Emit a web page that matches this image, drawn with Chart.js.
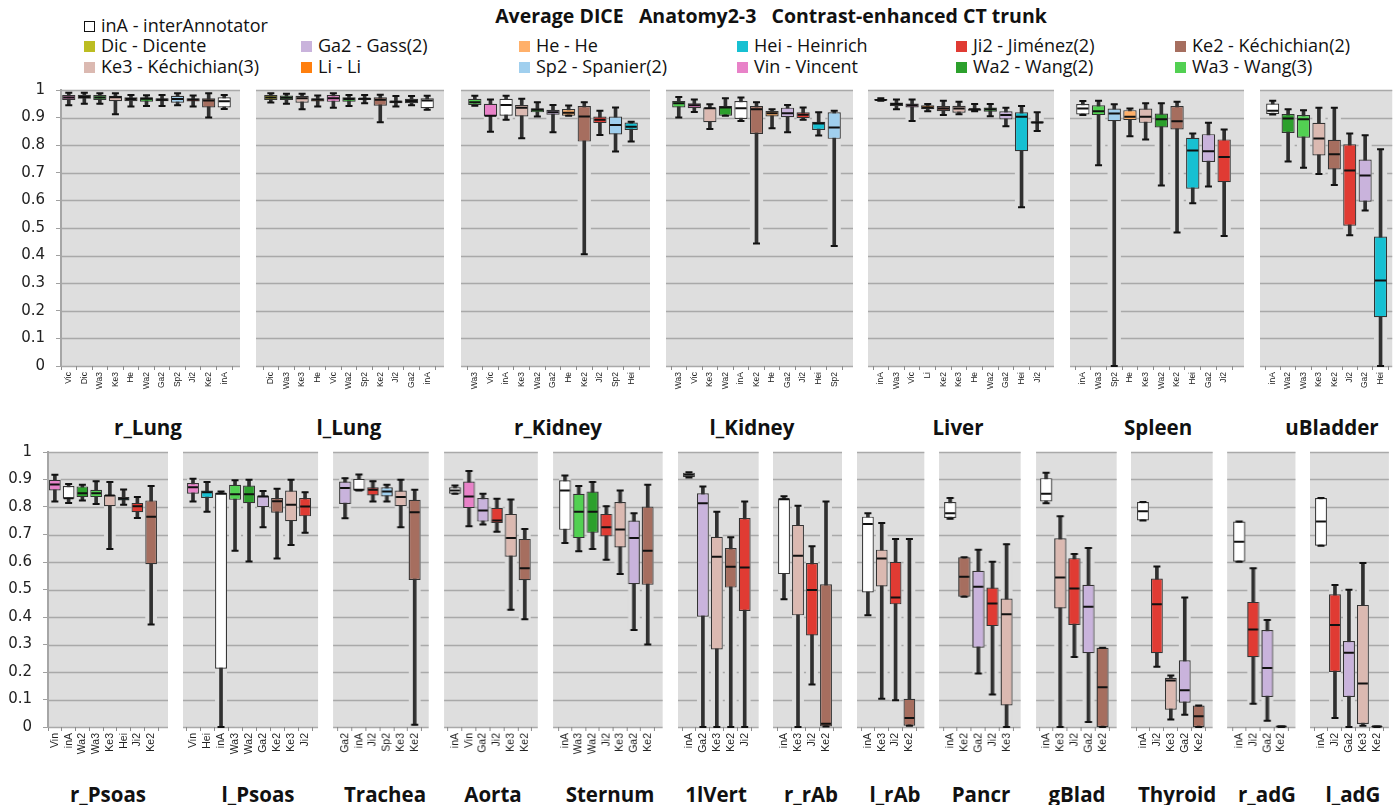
<!DOCTYPE html>
<html>
<head>
<meta charset="utf-8">
<title>Average DICE Anatomy2-3</title>
<script src="https://cdn.jsdelivr.net/npm/chart.js@4.4.1/dist/chart.umd.min.js"></script>
<style>
  body { margin: 0; background: #fff; }
  #page { position: relative; width: 1398px; height: 805px; overflow: hidden; font-family: 'Open Sans', sans-serif; color: #111; }
  #page canvas { position: absolute; }
  .title { position: absolute; left: 771px; top: 16px; transform: translate(-50%, -50%); font: bold 19.5px 'Open Sans', sans-serif; line-height: 24px; white-space: pre; }
  .lg { position: absolute; font: 18px 'Open Sans', sans-serif; line-height: 20px; white-space: pre; }
  .sw { display: inline-block; width: 11px; height: 11px; margin-right: 6px; vertical-align: 0px; box-sizing: border-box; }
  .ptitle { position: absolute; transform: translate(-50%, -50%); font: bold 20.5px 'Open Sans', sans-serif; line-height: 24px; white-space: nowrap; }
</style>
</head>
<body>
<div id="page">
  <div class="title">Average DICE   Anatomy2-3   Contrast-enhanced CT trunk</div>
</div>
<script>
// y ticks shared by every panel
const yTicks = [0, 0.1, 0.2, 0.3, 0.4, 0.5, 0.6, 0.7, 0.8, 0.9, 1];

// legend
const legendCodes = ['inA', 'Dic', 'Ga2', 'He', 'Hei', 'Ji2', 'Ke2', 'Ke3', 'Li', 'Sp2', 'Vin', 'Wa2', 'Wa3'];
const legendNames = ['interAnnotator', 'Dicente', 'Gass(2)', 'He', 'Heinrich', 'Jiménez(2)', 'Kéchichian(2)',
  'Kéchichian(3)', 'Li', 'Spanier(2)', 'Vincent', 'Wang(2)', 'Wang(3)'];

// per panel: categories and [min, q1, median, q3, max] per category
const rLungCats = ['Vic', 'Dic', 'Wa3', 'Ke3', 'He', 'Wa2', 'Ga2', 'Sp2', 'Ji2', 'Ke2', 'inA'];
const rLungStats = [
  [0.945, 0.964, 0.973, 0.982, 0.990], [0.950, 0.968, 0.975, 0.983, 0.990], [0.950, 0.964, 0.973, 0.982, 0.988],
  [0.912, 0.959, 0.974, 0.979, 0.988], [0.940, 0.959, 0.967, 0.974, 0.982], [0.942, 0.957, 0.968, 0.974, 0.981],
  [0.942, 0.959, 0.965, 0.970, 0.982], [0.945, 0.954, 0.967, 0.979, 0.988], [0.940, 0.958, 0.965, 0.970, 0.980],
  [0.900, 0.937, 0.962, 0.970, 0.988], [0.931, 0.937, 0.959, 0.974, 0.982]
];
const lLungCats = ['Dic', 'Wa3', 'Ke3', 'He', 'Vic', 'Wa2', 'Sp2', 'Ke2', 'Ji2', 'Ga2', 'inA'];
const lLungStats = [
  [0.955, 0.964, 0.973, 0.982, 0.988], [0.950, 0.964, 0.972, 0.980, 0.986], [0.930, 0.954, 0.970, 0.979, 0.986],
  [0.940, 0.958, 0.965, 0.970, 0.980], [0.936, 0.957, 0.970, 0.982, 0.988], [0.942, 0.957, 0.967, 0.974, 0.982],
  [0.952, 0.964, 0.968, 0.972, 0.982], [0.883, 0.943, 0.965, 0.974, 0.983], [0.940, 0.952, 0.957, 0.962, 0.978],
  [0.945, 0.952, 0.960, 0.968, 0.978], [0.928, 0.934, 0.962, 0.970, 0.979]
];
const rKidneyCats = ['Wa3', 'Vic', 'inA', 'Ke3', 'Wa2', 'Ga2', 'He', 'Ke2', 'Ji2', 'Sp2', 'Hei'];
const rKidneyStats = [
  [0.943, 0.946, 0.956, 0.968, 0.979], [0.849, 0.904, 0.907, 0.950, 0.966], [0.892, 0.907, 0.946, 0.968, 0.979],
  [0.825, 0.904, 0.936, 0.946, 0.968], [0.904, 0.919, 0.928, 0.934, 0.956], [0.847, 0.910, 0.919, 0.928, 0.946],
  [0.907, 0.907, 0.918, 0.931, 0.944], [0.405, 0.813, 0.904, 0.942, 0.956], [0.837, 0.880, 0.892, 0.904, 0.925],
  [0.777, 0.839, 0.873, 0.904, 0.937], [0.813, 0.855, 0.867, 0.882, 0.885]
];
const lKidneyCats = ['Wa3', 'Vic', 'Ke3', 'Wa2', 'inA', 'Ke2', 'He', 'Ga2', 'Ji2', 'Hei', 'Sp2'];
const lKidneyStats = [
  [0.900, 0.937, 0.952, 0.960, 0.975], [0.920, 0.934, 0.945, 0.952, 0.966], [0.859, 0.883, 0.934, 0.937, 0.948],
  [0.907, 0.907, 0.937, 0.942, 0.970], [0.888, 0.895, 0.934, 0.960, 0.973], [0.444, 0.841, 0.930, 0.942, 0.956],
  [0.861, 0.904, 0.916, 0.924, 0.930], [0.847, 0.901, 0.916, 0.936, 0.946], [0.892, 0.898, 0.910, 0.919, 0.937],
  [0.835, 0.855, 0.879, 0.885, 0.919], [0.435, 0.823, 0.864, 0.919, 0.925]
];
const liverCats = ['inA', 'Wa3', 'Vic', 'Li', 'Ke2', 'Ke3', 'He', 'Wa2', 'Ga2', 'Hei', 'Ji2'];
const liverStats = [
  [0.961, 0.961, 0.964, 0.967, 0.970], [0.930, 0.942, 0.949, 0.955, 0.966], [0.888, 0.937, 0.945, 0.951, 0.966],
  [0.923, 0.930, 0.937, 0.945, 0.949], [0.909, 0.923, 0.933, 0.942, 0.961], [0.912, 0.918, 0.933, 0.943, 0.957],
  [0.923, 0.925, 0.930, 0.933, 0.949], [0.905, 0.921, 0.930, 0.937, 0.949], [0.869, 0.893, 0.909, 0.923, 0.936],
  [0.575, 0.778, 0.903, 0.919, 0.942], [0.851, 0.879, 0.882, 0.887, 0.919]
];
const spleenCats = ['inA', 'Wa3', 'Sp2', 'He', 'Ke3', 'Wa2', 'Ke2', 'Hei', 'Ga2', 'Ji2'];
const spleenStats = [
  [0.909, 0.911, 0.933, 0.949, 0.960], [0.727, 0.909, 0.923, 0.945, 0.961], [0.000, 0.887, 0.915, 0.933, 0.948],
  [0.832, 0.891, 0.903, 0.927, 0.933], [0.821, 0.881, 0.903, 0.933, 0.952], [0.654, 0.864, 0.894, 0.915, 0.952],
  [0.484, 0.857, 0.887, 0.942, 0.957], [0.590, 0.642, 0.781, 0.827, 0.842], [0.650, 0.739, 0.778, 0.840, 0.881],
  [0.471, 0.666, 0.757, 0.821, 0.857]
];
const uBladderCats = ['inA', 'Wa2', 'Wa3', 'Ke3', 'Ke2', 'Ji2', 'Ga2', 'Hei'];
const uBladderStats = [
  [0.911, 0.913, 0.925, 0.951, 0.961], [0.741, 0.844, 0.897, 0.913, 0.930], [0.718, 0.827, 0.894, 0.909, 0.927],
  [0.696, 0.763, 0.824, 0.881, 0.936], [0.656, 0.712, 0.767, 0.820, 0.936], [0.474, 0.508, 0.708, 0.803, 0.842],
  [0.563, 0.595, 0.690, 0.748, 0.836], [0.000, 0.177, 0.310, 0.469, 0.785]
];
const rPsoasCats = ['Vin', 'inA', 'Wa2', 'Wa3', 'Ke3', 'Hei', 'Ji2', 'Ke2'];
const rPsoasStats = [
  [0.820, 0.860, 0.882, 0.899, 0.917], [0.815, 0.830, 0.832, 0.876, 0.884], [0.824, 0.836, 0.850, 0.875, 0.881],
  [0.811, 0.836, 0.850, 0.863, 0.894], [0.647, 0.803, 0.842, 0.844, 0.891], [0.808, 0.824, 0.830, 0.836, 0.864],
  [0.760, 0.781, 0.803, 0.815, 0.836], [0.373, 0.592, 0.765, 0.824, 0.876]
];
const lPsoasCats = ['Vin', 'Hei', 'inA', 'Wa3', 'Wa2', 'Ga2', 'Ke2', 'Ke3', 'Ji2'];
const lPsoasStats = [
  [0.820, 0.848, 0.872, 0.887, 0.903], [0.783, 0.833, 0.854, 0.860, 0.891], [0.000, 0.212, 0.848, 0.852, 0.856],
  [0.641, 0.826, 0.846, 0.881, 0.897], [0.602, 0.814, 0.846, 0.878, 0.899], [0.726, 0.799, 0.838, 0.842, 0.858],
  [0.613, 0.779, 0.821, 0.833, 0.866], [0.662, 0.748, 0.808, 0.860, 0.899], [0.706, 0.766, 0.802, 0.833, 0.854]
];
const tracheaCats = ['Ga2', 'inA', 'Ji2', 'Sp2', 'Ke3', 'Ke2'];
const tracheaStats = [
  [0.759, 0.811, 0.869, 0.893, 0.905], [0.860, 0.860, 0.863, 0.903, 0.918], [0.820, 0.842, 0.863, 0.872, 0.894],
  [0.820, 0.838, 0.856, 0.872, 0.881], [0.726, 0.803, 0.836, 0.860, 0.899], [0.008, 0.535, 0.781, 0.826, 0.863]
];
const aortaCats = ['inA', 'Vin', 'Ga2', 'Ji2', 'Ke3', 'Ke2'];
const aortaStats = [
  [0.848, 0.848, 0.860, 0.872, 0.878], [0.730, 0.796, 0.838, 0.893, 0.931], [0.736, 0.747, 0.787, 0.833, 0.848],
  [0.710, 0.742, 0.751, 0.797, 0.830], [0.426, 0.619, 0.687, 0.775, 0.827], [0.392, 0.534, 0.577, 0.684, 0.720]
];
const sternumCats = ['inA', 'Wa3', 'Wa2', 'Ji2', 'Ke3', 'Ga2', 'Ke2'];
const sternumStats = [
  [0.669, 0.717, 0.860, 0.897, 0.915], [0.639, 0.687, 0.783, 0.848, 0.876], [0.647, 0.706, 0.783, 0.856, 0.891],
  [0.608, 0.693, 0.726, 0.775, 0.803], [0.556, 0.653, 0.718, 0.818, 0.860], [0.353, 0.519, 0.687, 0.751, 0.777],
  [0.300, 0.517, 0.641, 0.802, 0.881]
];
const vertCats = ['inA', 'Ga2', 'Ke3', 'Ke2', 'Ji2'];
const vertStats = [
  [0.907, 0.908, 0.917, 0.925, 0.926], [0.000, 0.401, 0.814, 0.850, 0.875], [0.000, 0.282, 0.619, 0.692, 0.783],
  [0.000, 0.507, 0.583, 0.651, 0.690], [0.000, 0.422, 0.580, 0.760, 0.820]
];
const rRAbCats = ['inA', 'Ke3', 'Ji2', 'Ke2'];
const rRAbStats = [
  [0.465, 0.556, 0.828, 0.832, 0.839], [0.000, 0.406, 0.623, 0.735, 0.805], [0.155, 0.333, 0.498, 0.596, 0.657],
  [0.002, 0.002, 0.012, 0.519, 0.820]
];
const lRAbCats = ['inA', 'Ke3', 'Ji2', 'Ke2'];
const lRAbStats = [
  [0.406, 0.489, 0.738, 0.765, 0.777], [0.103, 0.511, 0.613, 0.645, 0.742], [0.097, 0.446, 0.471, 0.601, 0.684],
  [0.005, 0.005, 0.033, 0.103, 0.684]
];
const pancrCats = ['inA', 'Ke2', 'Ga2', 'Ji2', 'Ke3'];
const pancrStats = [
  [0.757, 0.760, 0.777, 0.818, 0.833], [0.474, 0.474, 0.546, 0.617, 0.617], [0.195, 0.288, 0.510, 0.568, 0.645],
  [0.118, 0.367, 0.449, 0.507, 0.601], [0.000, 0.078, 0.410, 0.467, 0.665]
];
const gBladCats = ['inA', 'Ke3', 'Ji2', 'Ga2', 'Ke2'];
const gBladStats = [
  [0.814, 0.820, 0.848, 0.905, 0.925], [0.000, 0.431, 0.544, 0.686, 0.766], [0.255, 0.371, 0.504, 0.614, 0.629],
  [0.018, 0.268, 0.437, 0.517, 0.651], [0.000, 0.000, 0.145, 0.288, 0.288]
];
const thyroidCats = ['inA', 'Ji2', 'Ke3', 'Ga2', 'Ke2'];
const thyroidStats = [
  [0.751, 0.751, 0.785, 0.818, 0.818], [0.219, 0.268, 0.446, 0.540, 0.584], [0.027, 0.063, 0.169, 0.179, 0.187],
  [0.045, 0.088, 0.134, 0.243, 0.471], [0.000, 0.000, 0.039, 0.078, 0.078]
];
const rAdGCats = ['inA', 'Ji2', 'Ga2', 'Ke2'];
const rAdGStats = [
  [0.601, 0.601, 0.674, 0.747, 0.747], [0.085, 0.254, 0.355, 0.455, 0.577], [0.023, 0.109, 0.215, 0.353, 0.389],
  [0.000, 0.000, 0.002, 0.003, 0.003]
];
const lAdGCats = ['inA', 'Ji2', 'Ga2', 'Ke3', 'Ke2'];
const lAdGStats = [
  [0.659, 0.659, 0.747, 0.833, 0.833], [0.033, 0.200, 0.371, 0.483, 0.516], [0.000, 0.109, 0.270, 0.313, 0.499],
  [0.005, 0.011, 0.158, 0.444, 0.596], [0.000, 0.000, 0.002, 0.003, 0.003]
];

const colors = {
  inA: '#ffffff', Dic: '#bcbd22', Ga2: '#c9b3dc', He: '#ffb06a', Hei: '#17c0d2', Ji2: '#e03b33',
  Ke2: '#a66e5f', Ke3: '#dbb9b1', Li: '#ff7f0e', Sp2: '#a0cfee', Vin: '#e882c8', Vic: '#e882c8',
  Wa2: '#2ca02c', Wa3: '#52d052'
};
const bgGray = '#dedede';

// rows: pixel of value 1 and 0, title centre, label font size
const rows = [
  { top: 90, bottom: 366, titleY: 427, labelSize: 8.5 },
  { top: 452, bottom: 727, titleY: 794, labelSize: 10.5 }
];

// name, cats, stats, row, gray left, first tick, last tick, gray right, title x, has y axis
const panels = [
  ['r_Lung', rLungCats, rLungStats, 0, 61, 61, 232, 240, 148, true],
  ['l_Lung', lLungCats, lLungStats, 0, 256, 263, 435, 444, 349],
  ['r_Kidney', rKidneyCats, rKidneyStats, 0, 461, 467, 639, 650, 558],
  ['l_Kidney', lKidneyCats, lKidneyStats, 0, 666, 671, 842, 853, 752],
  ['Liver', liverCats, liverStats, 0, 868, 873, 1045, 1054, 958],
  ['Spleen', spleenCats, spleenStats, 0, 1070, 1075, 1232, 1244, 1158],
  ['uBladder', uBladderCats, uBladderStats, 0, 1260, 1265, 1388, 1392, 1332],
  ['r_Psoas', rPsoasCats, rPsoasStats, 1, 48, 48, 158, 168, 108, true],
  ['l_Psoas', lPsoasCats, lPsoasStats, 1, 183, 186, 312, 318, 258],
  ['Trachea', tracheaCats, tracheaStats, 1, 333, 338, 421, 428, 385],
  ['Aorta', aortaCats, aortaStats, 1, 444, 448, 531, 537, 493],
  ['Sternum', sternumCats, sternumStats, 1, 553, 558, 654, 662, 610],
  ['1lVert', vertCats, vertStats, 1, 678, 682, 751, 758, 716],
  ['r_rAb', rRAbCats, rRAbStats, 1, 773, 777, 833, 842, 811],
  ['l_rAb', lRAbCats, lRAbStats, 1, 857, 861, 916, 924, 895],
  ['Pancr', pancrCats, pancrStats, 1, 939, 943, 1013, 1020, 981],
  ['gBlad', gBladCats, gBladStats, 1, 1036, 1039, 1109, 1116, 1077],
  ['Thyroid', thyroidCats, thyroidStats, 1, 1131, 1136, 1205, 1212, 1177],
  ['r_adG', rAdGCats, rAdGStats, 1, 1227, 1232, 1287, 1294, 1267],
  ['l_adG', lAdGCats, lAdGStats, 1, 1310, 1314, 1383, 1388, 1353]
];

const page = document.getElementById('page');

// legend: first row inA alone, then two rows of six
const legendX = [84, 301, 519, 737, 956, 1175];
const legendY = [15, 35, 56];
legendCodes.forEach((code, i) => {
  const div = document.createElement('div');
  div.className = 'lg';
  let x, y;
  if (i === 0) { x = legendX[0]; y = legendY[0]; }
  else { x = legendX[(i - 1) % 6]; y = legendY[1 + Math.floor((i - 1) / 6)]; }
  div.style.left = x + 'px';
  div.style.top = y + 'px';
  const sw = document.createElement('span');
  sw.className = 'sw';
  sw.style.background = colors[code];
  if (code === 'inA') sw.style.border = '1px solid #111';
  div.appendChild(sw);
  div.appendChild(document.createTextNode(code + ' - ' + legendNames[i]));
  page.appendChild(div);
});

// gray panel background and horizontal grid lines
const panelBg = {
  id: 'panelBg',
  beforeDraw(chart) {
    const { ctx, chartArea: a, scales: { y } } = chart;
    const pad = chart.options.layout.padding;
    const x0 = a.left - pad.left;
    const x1 = a.right + pad.right;
    ctx.save();
    ctx.fillStyle = bgGray;
    ctx.fillRect(x0, a.top, x1 - x0, a.bottom - a.top);
    ctx.strokeStyle = '#a9a9a9';
    ctx.lineWidth = 1.6;
    yTicks.forEach(v => {
      const py = Math.round(y.getPixelForValue(v)) + 0.5;
      ctx.beginPath();
      ctx.moveTo(x0, py);
      ctx.lineTo(x1, py);
      ctx.stroke();
    });
    ctx.restore();
  }
};

// medians and whisker caps
const boxMarks = {
  id: 'boxMarks',
  afterDatasetsDraw(chart) {
    const { ctx, scales: { y } } = chart;
    const ds = chart.data.datasets[0];
    const meta = chart.getDatasetMeta(0);
    ctx.save();
    ctx.strokeStyle = '#111';
    ctx.lineWidth = 2;
    meta.data.forEach((bar, i) => {
      const s = ds.stats[i];
      const half = bar.width / 2;
      const pm = y.getPixelForValue(s[2]);
      ctx.beginPath();
      ctx.moveTo(bar.x - half + 1, pm);
      ctx.lineTo(bar.x + half - 1, pm);
      [s[0], s[4]].forEach(v => {
        const pc = y.getPixelForValue(v);
        ctx.moveTo(bar.x - 3.5, pc);
        ctx.lineTo(bar.x + 3.5, pc);
      });
      ctx.stroke();
    });
    ctx.restore();
  }
};

const xAxisH = 44;
const topPad = 10;

function makeChart(canvas, w, h, cats, stats, row, gx0, tx0, tx1, gx1, axis) {
  canvas.width = w;
  canvas.height = h;
  canvas.style.width = w + 'px';
  canvas.style.height = h + 'px';
  const range = stats.map(s => [s[0], s[4]]);
  return new Chart(canvas, {
    type: 'bar',
    data: {
      labels: cats,
      datasets: [
        {
          data: stats.map(s => [s[1], s[3]]),
          stats,
          backgroundColor: cats.map(c => colors[c]),
          borderColor: '#333',
          borderWidth: 1.2,
          borderSkipped: false,
          barPercentage: 0.85,
          categoryPercentage: 1,
          grouped: false,
          order: 1
        },
        { data: range, backgroundColor: '#303030', barThickness: 3, grouped: false, order: 2 },
        { data: range, backgroundColor: bgGray, barPercentage: 0.85, categoryPercentage: 1, grouped: false, order: 3 }
      ]
    },
    options: {
      responsive: false,
      maintainAspectRatio: false,
      animation: false,
      events: [],
      layout: { padding: { left: axis ? 0 : tx0 - gx0, right: gx1 - tx1, top: topPad, bottom: 0 } },
      plugins: { legend: { display: false }, tooltip: { enabled: false } },
      scales: {
        x: {
          grid: { offset: true, drawOnChartArea: false, tickLength: 4, color: '#8c8c8c' },
          border: { display: false },
          ticks: {
            autoSkip: false, minRotation: 90, maxRotation: 90, padding: 2, color: '#222',
            font: { family: 'Liberation Sans', size: row.labelSize }
          },
          afterFit: scale => { scale.height = xAxisH; }
        },
        y: {
          display: !!axis,
          min: 0,
          max: 1,
          afterBuildTicks: scale => { scale.ticks = yTicks.map(v => ({ value: v })); },
          ticks: {
            padding: 11, color: '#222',
            font: { family: 'DejaVu Sans', size: 15 },
            callback: v => String(Math.round(v * 10) / 10)
          },
          grid: { drawOnChartArea: false, tickLength: 5, color: '#a0a0a0' },
          border: { display: true, color: '#a6a6a6', width: 2 },
          afterFit: scale => { scale.width = tx0 - (axis ? 0 : gx0); }
        }
      }
    },
    plugins: [panelBg, boxMarks]
  });
}

panels.forEach(([name, cats, stats, rowIdx, gx0, tx0, tx1, gx1, titleX, axis]) => {
  const row = rows[rowIdx];
  const left = axis ? 0 : gx0;
  let w = gx1 - left;
  let h = row.bottom - row.top + topPad + xAxisH;
  const canvas = document.createElement('canvas');
  page.appendChild(canvas);

  // build, measure the plot area, and rebuild once if its size is off
  let chart = makeChart(canvas, w, h, cats, stats, row, gx0, tx0, tx1, gx1, axis);
  let a = chart.chartArea;
  const dw = (tx1 - tx0) - (a.right - a.left);
  const dh = (row.bottom - row.top) - (a.bottom - a.top);
  if (Math.abs(dw) > 0.5 || Math.abs(dh) > 0.5) {
    chart.destroy();
    w += dw;
    h += dh;
    chart = makeChart(canvas, w, h, cats, stats, row, gx0, tx0, tx1, gx1, axis);
    a = chart.chartArea;
  }
  canvas.style.left = (tx0 - a.left) + 'px';
  canvas.style.top = (row.top - a.top) + 'px';

  const t = document.createElement('div');
  t.className = 'ptitle';
  t.textContent = name;
  t.style.left = titleX + 'px';
  t.style.top = row.titleY + 'px';
  page.appendChild(t);
});
</script>
</body>
</html>
